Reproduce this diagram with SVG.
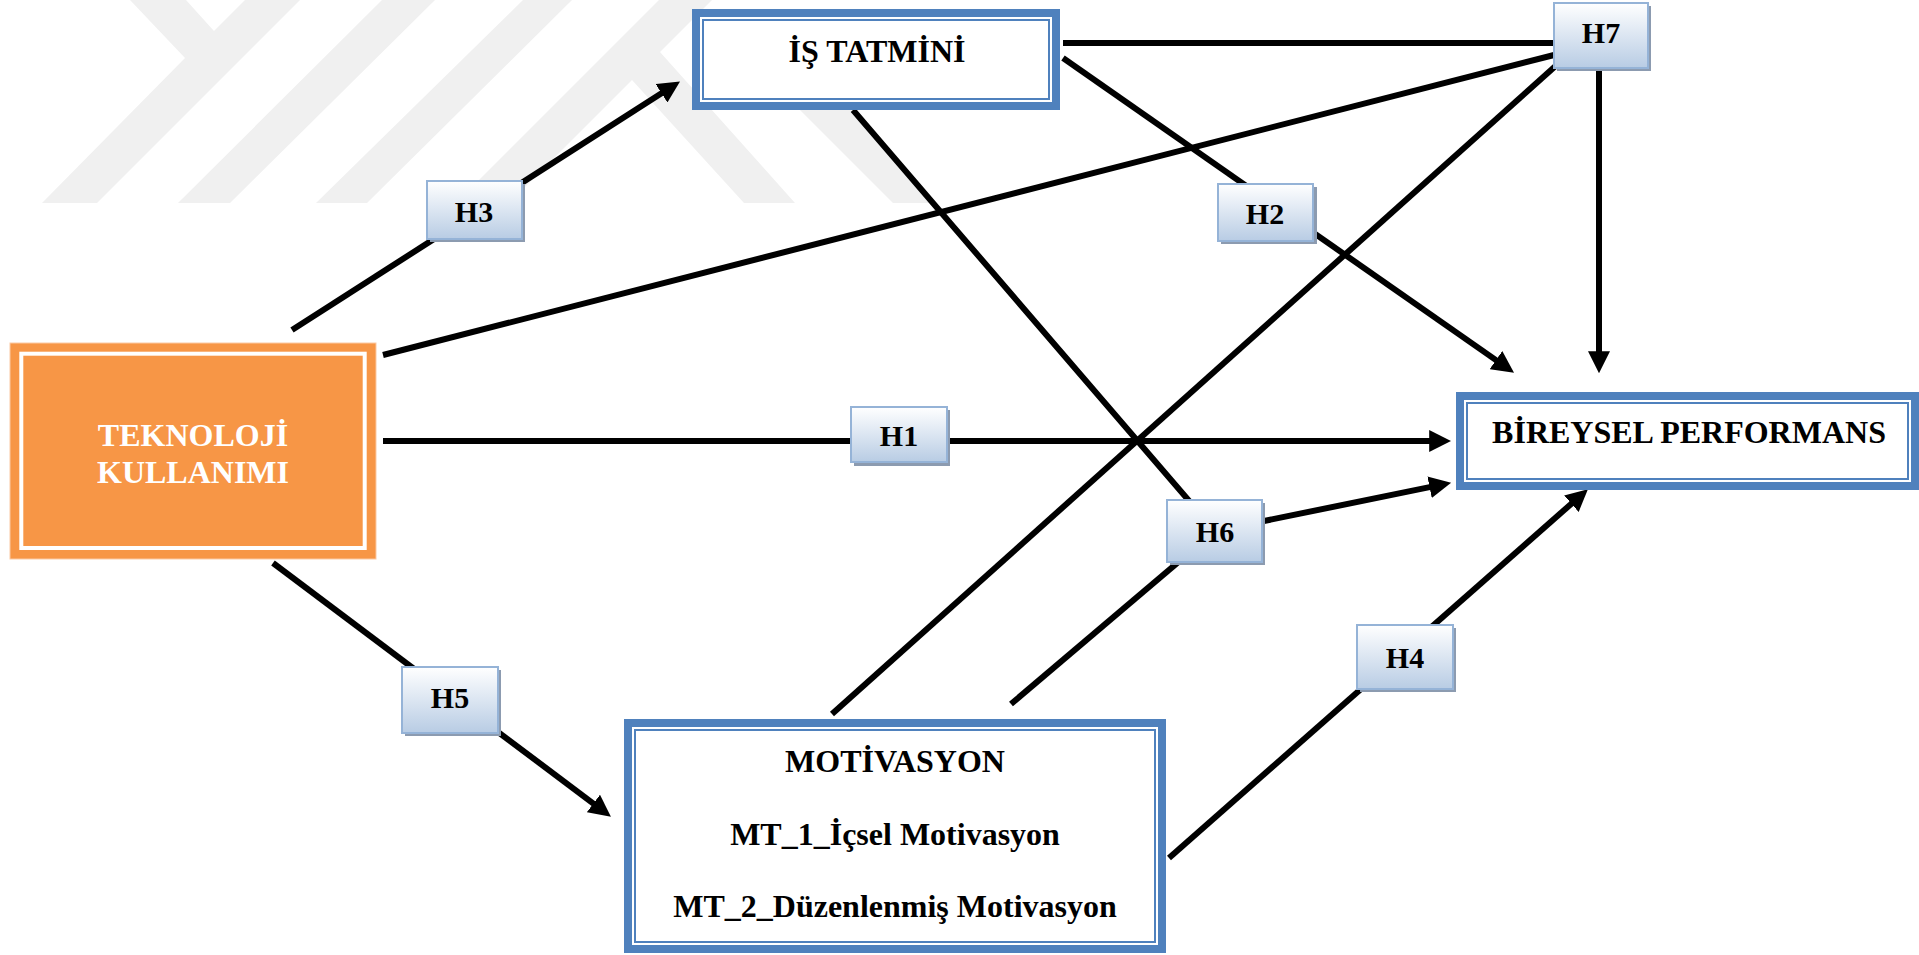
<svg xmlns="http://www.w3.org/2000/svg" width="1919" height="955" viewBox="0 0 1919 955">
<defs>
<linearGradient id="lblGrad" x1="0" y1="0" x2="0" y2="1">
<stop offset="0" stop-color="#ffffff"/>
<stop offset="1" stop-color="#b8cce4"/>
</linearGradient>
<marker id="arrow" markerUnits="userSpaceOnUse" markerWidth="22" markerHeight="22" viewBox="0 0 20 20" refX="8" refY="10" orient="auto">
<path d="M0,0 L20,10 L0,20 z" fill="#000"/>
</marker>
<style>
.wm{fill:#f0f0f0}
.conn{stroke:#000;stroke-width:6;fill:none}
.arr{marker-end:url(#arrow)}
.bframe{fill:#fff;stroke:#4f81bd;stroke-width:8}
.bthin{fill:none;stroke:#4f81bd;stroke-width:2}
.ntext{font-family:"Liberation Serif","Times New Roman",serif;font-weight:bold;font-size:32px;fill:#000;text-anchor:middle}
.wtext{fill:#fff}
.lshadow{fill:#8c9bb0}
.lbox{fill:url(#lblGrad);stroke:#95b3d7;stroke-width:2}
.ltext{font-family:"Liberation Serif","Times New Roman",serif;font-weight:bold;font-size:30px;fill:#000;text-anchor:middle}
</style>
</defs>
<rect width="1919" height="955" fill="#fff"/>
<g id="watermark">
<polygon class="wm" points="130,0 186,0 214,31 245,0 300,0 97,203 42,203 185,58"/>
<polygon class="wm" points="382,0 435,0 230,203 178,203"/>
<polygon class="wm" points="523,0 572,0 367,203 316,203"/>
<polygon class="wm" points="659,0 712,0 660,52 795,203 744,203 632,80 509,203 456,203"/>
<polygon class="wm" points="790,100 843,100 935,203 893,203"/>
</g>
<g id="connectors">
<line class="conn arr" x1="292" y1="330" x2="668.9" y2="88.5"/>
<line class="conn" x1="383" y1="355" x2="1558" y2="54"/>
<line class="conn" x1="1063" y1="43" x2="1600" y2="43"/>
<line class="conn arr" x1="1063" y1="58" x2="1503.2" y2="365.1"/>
<polyline class="conn arr" points="853,110 1215,531 1438.2,485.4"/>
<line class="conn" x1="1011" y1="704" x2="1215" y2="531"/>
<line class="conn" x1="832" y1="714" x2="1560" y2="62"/>
<line class="conn arr" x1="1599" y1="68" x2="1599" y2="360"/>
<line class="conn arr" x1="383" y1="441" x2="1438" y2="441"/>
<line class="conn arr" x1="273" y1="563" x2="600.4" y2="808.8"/>
<line class="conn arr" x1="1169" y1="858" x2="1578" y2="497.9"/>
</g>
<g id="node-is-tatmini">
<rect class="bframe" x="696" y="13" width="360" height="93"/>
<rect class="bthin" x="703" y="20" width="346" height="79"/>
<text class="ntext" x="877" y="62">İŞ TATMİNİ</text>
</g>
<g id="node-teknoloji">
<rect x="10" y="343" width="366" height="216" fill="#f79646" stroke="#fbc9a3" stroke-width="1"/>
<rect x="21.3" y="353.7" width="343.4" height="194.3" fill="none" stroke="#fff" stroke-width="4"/>
<text class="ntext wtext" x="193" y="446">TEKNOLOJİ</text>
<text class="ntext wtext" x="193" y="483">KULLANIMI</text>
</g>
<g id="node-bireysel">
<rect class="bframe" x="1460" y="396" width="455" height="90"/>
<rect class="bthin" x="1467" y="403" width="441" height="76"/>
<text class="ntext" x="1689" y="443">BİREYSEL PERFORMANS</text>
</g>
<g id="node-motivasyon">
<rect class="bframe" x="628" y="723" width="534" height="226"/>
<rect class="bthin" x="635" y="730" width="520" height="212"/>
<text class="ntext" x="895" y="772">MOTİVASYON</text>
<text class="ntext" x="895" y="845">MT_1_İçsel Motivasyon</text>
<text class="ntext" x="895" y="917">MT_2_Düzenlenmiş Motivasyon</text>
</g>
<g id="label-h1">
<rect class="lshadow" x="854" y="410" width="96" height="56"/>
<rect class="lbox" x="851" y="407" width="96" height="55"/>
<text class="ltext" x="899" y="446">H1</text>
</g>
<g id="label-h2">
<rect class="lshadow" x="1221" y="187" width="96" height="57"/>
<rect class="lbox" x="1218" y="184" width="95" height="57"/>
<text class="ltext" x="1265" y="224">H2</text>
</g>
<g id="label-h3">
<rect class="lshadow" x="430" y="184" width="95" height="58"/>
<rect class="lbox" x="427" y="181" width="95" height="58"/>
<text class="ltext" x="474" y="222">H3</text>
</g>
<g id="label-h4">
<rect class="lshadow" x="1360" y="628" width="96" height="64"/>
<rect class="lbox" x="1357" y="625" width="96" height="64"/>
<text class="ltext" x="1405" y="668">H4</text>
</g>
<g id="label-h5">
<rect class="lshadow" x="405" y="670" width="96" height="66"/>
<rect class="lbox" x="402" y="667" width="96" height="66"/>
<text class="ltext" x="450" y="708">H5</text>
</g>
<g id="label-h6">
<rect class="lshadow" x="1170" y="503" width="95" height="62"/>
<rect class="lbox" x="1167" y="500" width="95" height="62"/>
<text class="ltext" x="1215" y="542">H6</text>
</g>
<g id="label-h7">
<rect class="lshadow" x="1557" y="6" width="94" height="65"/>
<rect class="lbox" x="1554" y="3" width="94" height="65"/>
<text class="ltext" x="1601" y="43">H7</text>
</g>
</svg>
